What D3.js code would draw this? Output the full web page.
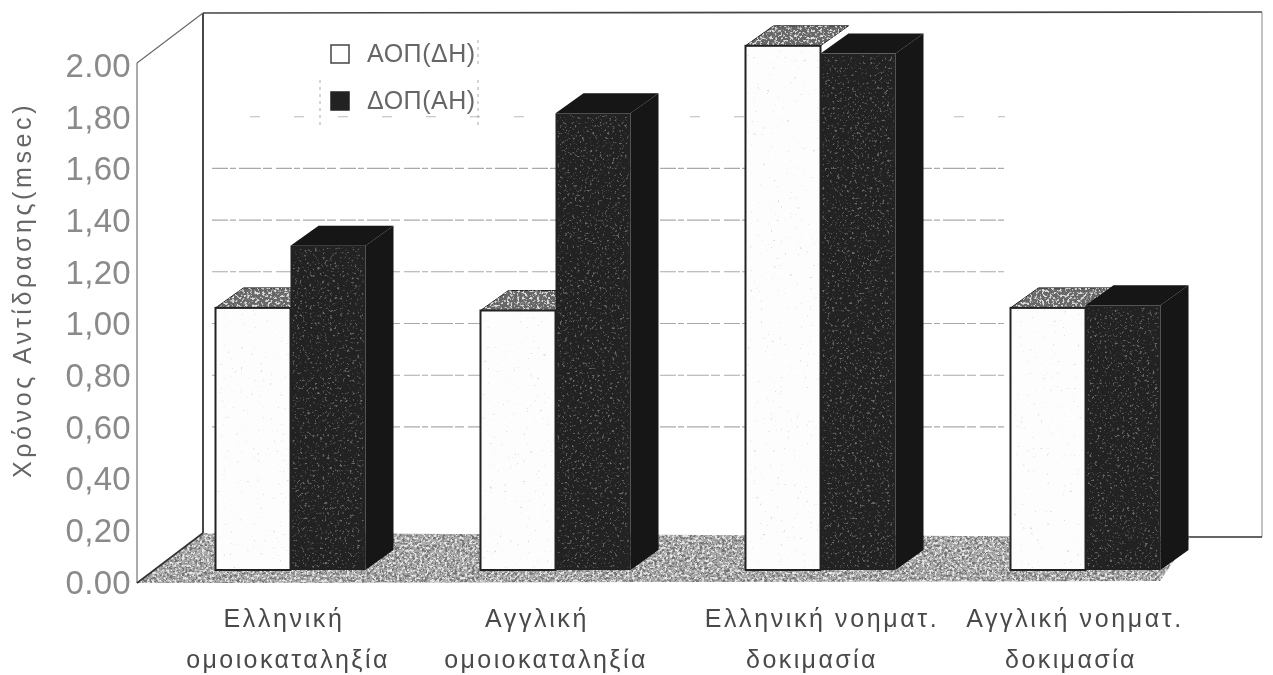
<!DOCTYPE html>
<html><head><meta charset="utf-8">
<script src="https://cdn.jsdelivr.net/npm/d3@7"></script>
<style>html,body{margin:0;background:#fff}svg{display:block}text{font-family:"Liberation Sans",Arial,sans-serif;fill:#4a4a4a}</style>
</head><body><svg id="c" width="1273" height="675"></svg>
<script>
const categories=["Ελληνική ομοιοκαταληξία","Αγγλική ομοιοκαταληξία","Ελληνική νοηματ. δοκιμασία","Αγγλική νοηματ. δοκιμασία"];
const catLine1=["Ελληνική","Αγγλική","Ελληνική νοηματ.","Αγγλική νοηματ."];
const catLine2=["ομοιοκαταληξία","ομοιοκαταληξία","δοκιμασία","δοκιμασία"];
const seriesNames=["ΑΟΠ(ΔΗ)","ΔΟΠ(ΑΗ)"];
const aop=[1.01,1.00,2.02,1.01];
const dop=[1.25,1.76,1.99,1.02];
const ticks=[0,0.2,0.4,0.6,0.8,1,1.2,1.4,1.6,1.8,2];
const yTitle="Χρόνος Αντίδρασης(msec)";

const dx=28,dy=-20,bw=75;
const svg=d3.select("#c");
const defs=svg.append("defs");
function noise(id,freq,seed,slope,icpt,rgb,op){
  const f=defs.append("filter").attr("id",id).attr("x",0).attr("y",0).attr("width","100%").attr("height","100%");
  f.append("feTurbulence").attr("type","fractalNoise").attr("baseFrequency",freq).attr("numOctaves",3).attr("seed",seed).attr("result","n");
  f.append("feColorMatrix").attr("in","n").attr("type","matrix")
   .attr("values",`0 0 0 0 ${rgb} 0 0 0 0 ${rgb} 0 0 0 0 ${rgb} ${slope} 0 0 0 ${icpt}`).attr("result","m");
  f.append("feComposite").attr("in","m").attr("in2","SourceAlpha").attr("operator","in").attr("result","c");
  const m=f.append("feComponentTransfer").attr("in","c");
  m.append("feFuncA").attr("type","linear").attr("slope",op);
}
noise("spW",0.3,3,9,-6.6,0.55,0.55);
noise("spD",0.4,7,6,-3.6,0.55,0.45);
noise("spF",0.4,11,6,-2.8,0.15,0.9);
noise("spT",0.4,5,6,-3.0,0.95,0.8);
defs.append("filter").attr("id","soft").append("feGaussianBlur").attr("stdDeviation",0.6);

const root=svg.append("g").attr("filter","url(#soft)");

const x0=d3.scaleBand().domain(categories).range([158,1218]);
const xc=c=>x0(c)+x0.bandwidth()/2;
const yAxisS=d3.scaleLinear().domain([0,2]).range([582,65]);   // axis plane
const yBar=d3.scaleLinear().domain([0,2]).range([570,51]);     // bar plane

const ln=(a,b,c,d,s,w)=>root.append("line").attr("x1",a).attr("y1",b).attr("x2",c).attr("y2",d).attr("stroke",s).attr("stroke-width",w);
ln(203,13,1262,12,"#444",1.6);
ln(203,13,203,533,"#333",1.8);
ln(1262,12,1262,537,"#888",1);
ln(137,63,203,13,"#666",1.1);
ln(137,63,137,583,"#666",1.1);
ln(1188,537,1262,537,"#333",1.5);

root.append("g").selectAll("line").data(ticks.filter(t=>t>0.5&&t<2)).join("line")
 .attr("x1",t=>t===1.8?250:212).attr("x2",1005).attr("y1",t=>yAxisS(t)).attr("y2",t=>yAxisS(t))
 .attr("stroke",t=>t===1.8?"#bbb":"#aaa").attr("stroke-width",1.1).attr("stroke-dasharray",t=>t===1.8?"10 34":"16 2 6 3 22 2 9 4");

const floor=[[137,583],[203,533],[1190,537],[1160,581]];
const fp="M"+floor.join("L")+"Z";
root.append("path").attr("d",fp).attr("fill","#a8a8a8");
root.append("path").attr("d",fp).attr("fill","#000").attr("filter","url(#spF)");
root.append("path").attr("d",fp).attr("fill","#fff").attr("filter","url(#spT)");
ln(137,583,203,533,"#333",1.6);

const series=[{vals:aop,front:"#fdfdfd",top:"#666",side:"#161616",i:0},{vals:dop,front:"#232323",top:"#161616",side:"#131313",i:1}];
categories.forEach((c,k)=>{
  series.forEach(s=>{
    const v=s.vals[k],xL=xc(c)+(s.i-1)*bw,xR=xL+bw,yT=yBar(v),yB=yBar(0);
    const g=root.append("g");
    const top=`M${xL},${yT}L${xL+dx},${yT+dy}L${xR+dx},${yT+dy}L${xR},${yT}Z`;
    g.append("path").attr("d",top).attr("fill",s.top).attr("stroke",s.i===0?"#222":"none");
    if(s.i===0) g.append("path").attr("d",top).attr("fill","#fff").attr("filter","url(#spT)");
    if(s.i===1) g.append("path").attr("d",`M${xR},${yT}L${xR+dx},${yT+dy}L${xR+dx},${yB+dy}L${xR},${yB}Z`).attr("fill",s.side);
    g.append("rect").attr("x",xL).attr("y",yT).attr("width",bw).attr("height",yB-yT).attr("fill",s.front).attr("stroke",s.i===0?"#222":"none").attr("stroke-width",2);
    g.append("rect").attr("x",xL+2).attr("y",yT+2).attr("width",bw-4).attr("height",yB-yT-4).attr("fill","#000").attr("filter",s.i===0?"url(#spW)":"url(#spD)");
  });
});

root.append("g").selectAll("text").data(ticks).join("text")
 .attr("x",131).attr("y",t=>yAxisS(t)).attr("dy","0.36em").attr("text-anchor","end")
 .attr("font-size",33).attr("letter-spacing",0.3).style("fill","#8a8a8a")
 .text(t=>d3.format(".2f")(t).replace(".",t===0||t===2?".":","));
root.append("text").attr("transform","translate(31,290) rotate(-90)").attr("text-anchor","middle")
 .attr("font-size",25).attr("letter-spacing",3.6).style("fill","#666").text(yTitle);

const lx1=[284,537,822,1075],lx2=[288,546,812,1071];
root.append("g").selectAll("text").data(catLine1).join("text").attr("x",(d,i)=>lx1[i]).attr("y",627)
 .attr("text-anchor","middle").attr("font-size",25).attr("letter-spacing",2.6).text(d=>d);
root.append("g").selectAll("text").data(catLine2).join("text").attr("x",(d,i)=>lx2[i]).attr("y",668)
 .attr("text-anchor","middle").attr("font-size",25).attr("letter-spacing",2.4).text(d=>d);

seriesNames.forEach((n,i)=>{
  const y=i===0?45:92;
  root.append("rect").attr("x",331).attr("y",y).attr("width",18).attr("height",18)
    .attr("fill",i===0?"#fff":"#222").attr("stroke",i===0?"#444":"#222").attr("stroke-width",1.5);
  root.append("text").attr("x",367).attr("y",y+17).attr("font-size",25).attr("letter-spacing",0.5).style("fill","#666").text(n);
});
[[320,80,125],[478,40,65],[478,80,125]].forEach(d=>ln(d[0],d[1],d[0],d[2],"#aaa",1).attr("stroke-dasharray","3 4"));
</script></body></html>
